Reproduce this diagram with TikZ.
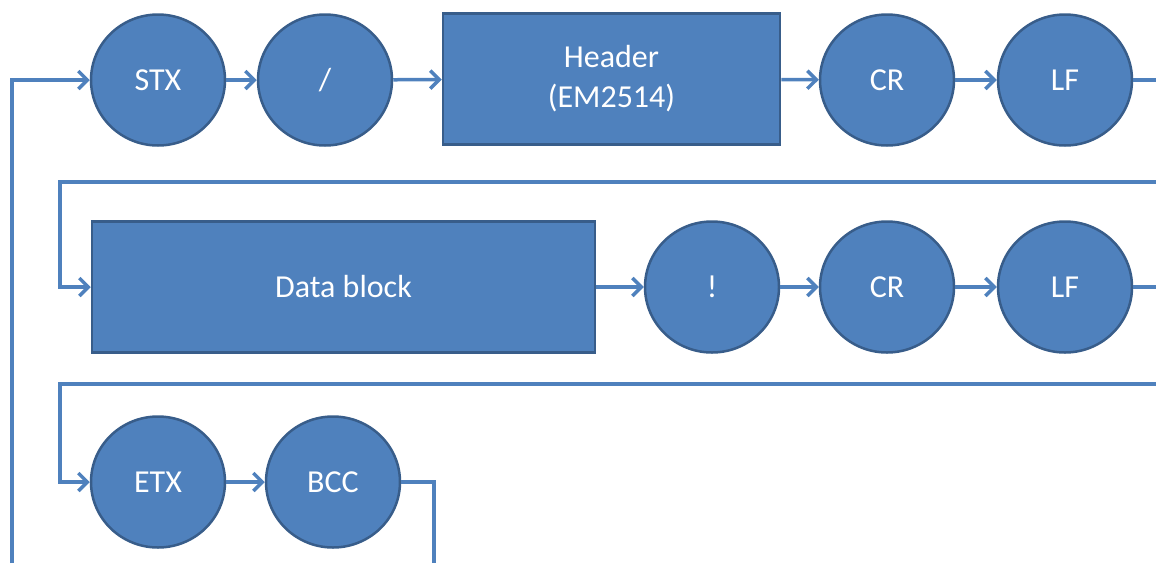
\documentclass[tikz,border=0pt]{standalone}
\usepackage{fontspec}
\setmainfont{Carlito}
\usetikzlibrary{arrows.meta}
\usetikzlibrary{shapes.geometric}
\usetikzlibrary{positioning}
\definecolor{boxfill}{HTML}{4F81BD}
\definecolor{boxedge}{HTML}{385D8A}
\tikzset{byte/.style = {ellipse, fill=boxfill, draw=boxedge, line width=2.5, minimum width=134, minimum height=131, inner sep=0, text=white, font=\fontsize{32}{40}\selectfont}}
\tikzset{field/.style = {rectangle, fill=boxfill, draw=boxedge, line width=2.5, minimum height=131, inner sep=0, text=white, align=center, font=\fontsize{32}{40}\selectfont}}
\tikzset{link/.style = {draw=boxfill, line width=3.5, -{Straight Barb[length=9pt,width=18pt,line width=3.5pt]}}}
\tikzset{wire/.style = {draw=boxfill, line width=3.5}}

\begin{document}
\begin{tikzpicture}[x=1pt,y=-1pt]
        \useasboundingbox (0,0) rectangle (1156,563);
        % first line
        \node [byte] (stx) at (158,80) {STX};
        \node [byte] (slash) at (325,80) {/};
        \node [field, minimum width=337] (header) at (611.5,79) {Header\\(EM2514)};
        \node [byte] (cr1) at (887,80) {CR};
        \node [byte] (lf1) at (1065,80) {LF};
        % second line
        \node [field, minimum width=503] (data) at (343.5,287) {Data block};
        \node [byte] (excl) at (712,287) {!};
        \node [byte] (cr2) at (887,287) {CR};
        \node [byte] (lf2) at (1065,287) {LF};
        % third line
        \node [byte] (etx) at (158,482) {ETX};
        \node [byte] (bcc) at (333,482) {BCC};
        \coordinate (start) at (12,563);
        \coordinate (end) at (434,563);
        \coordinate (edge1) at (1156,80);
        \coordinate (edge2) at (1156,287);
        \coordinate (wrap1) at (1156,182);
        \coordinate (turn1) at (60,182);
        \coordinate (wrap2) at (1156,384);
        \coordinate (turn2) at (60,384);
        \draw [link] (start) |- (stx);
        \draw [link] (stx) -- (slash);
        \draw [link] (slash) -- (header);
        \draw [link] (header) -- (cr1);
        \draw [link] (cr1) -- (lf1);
        \draw [wire] (lf1) -- (edge1);
        \draw [link] (wrap1) -- (turn1) |- (data);
        \draw [link] (data) -- (excl);
        \draw [link] (excl) -- (cr2);
        \draw [link] (cr2) -- (lf2);
        \draw [wire] (lf2) -- (edge2);
        \draw [link] (wrap2) -- (turn2) |- (etx);
        \draw [link] (etx) -- (bcc);
        \draw [wire] (bcc) -| (end);
    \end{tikzpicture}
\end{document}
